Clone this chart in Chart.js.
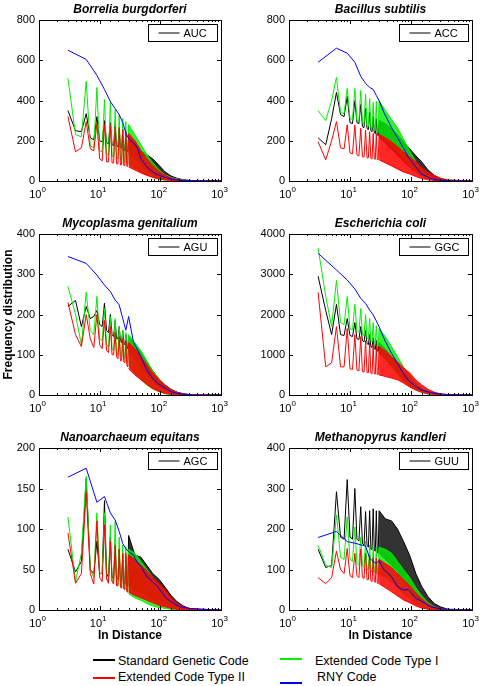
<!DOCTYPE html>
<html>
<head>
<meta charset="utf-8">
<script src="https://cdn.jsdelivr.net/npm/chart.js@4.4.0/dist/chart.umd.min.js"></script>
<style>
  body { margin: 0; background: #fff; width: 481px; height: 686px; position: relative; overflow: hidden;
         font-family: Arial, "Liberation Sans", sans-serif; }
  canvas { position: absolute; }
  .key-line { position: absolute; height: 2px; width: 22px; }
  .key-text { position: absolute; font-size: 12.5px; line-height: 14px; color: #000; white-space: nowrap; }
</style>
</head>
<body>
<canvas id="p0" width="240" height="215" style="left:0;top:0"></canvas>
<canvas id="p1" width="241" height="215" style="left:240px;top:0"></canvas>
<canvas id="p2" width="240" height="215" style="left:0;top:215px"></canvas>
<canvas id="p3" width="241" height="215" style="left:240px;top:215px"></canvas>
<canvas id="p4" width="240" height="216" style="left:0;top:430px"></canvas>
<canvas id="p5" width="241" height="216" style="left:240px;top:430px"></canvas>

<span class="key-line" style="left:93px;top:659px;background:#000"></span>
<span class="key-text" style="left:118px;top:654px">Standard Genetic Code</span>
<span class="key-line" style="left:93px;top:677px;background:#f00"></span>
<span class="key-text" style="left:118px;top:670px">Extended Code Type II</span>
<span class="key-line" style="left:280px;top:658px;background:#0e0"></span>
<span class="key-text" style="left:315px;top:654px">Extended Code Type I</span>
<span class="key-line" style="left:280px;top:682px;background:#00f"></span>
<span class="key-text" style="left:317px;top:670px">RNY Code</span>

<script>
// distances (x): short-range points, long-range envelope points, RNY samples
const zigDist = [3, 4, 5, 6, 7, 8, 9, 10, 11, 12, 13, 14, 15, 16, 17, 18, 19, 20, 21, 22, 23, 24, 25, 26, 27, 28, 29, 30];
const bandDist = [30, 38, 48, 60, 75, 95, 120, 150, 190, 240, 300, 400, 1000];
const rnyDist = [3, 6, 9, 12, 15, 18, 21, 24, 27, 30, 36, 42, 48, 60, 75, 90, 120, 150, 210, 300, 450, 1000];

const genomes = ['Borrelia burgdorferi', 'Bacillus subtilis', 'Mycoplasma genitalium',
  'Escherichia coli', 'Nanoarchaeum equitans', 'Methanopyrus kandleri'];
const codons = ['AUC', 'ACC', 'AGU', 'GGC', 'AGC', 'GUU'];
const yMax = [800, 800, 400, 4000, 200, 400];
const yStep = [200, 200, 100, 1000, 50, 100];
const xDecades = [1, 10, 100, 1000];
const seriesNames = ['Standard Genetic Code', 'Extended Code Type I', 'Extended Code Type II', 'RNY Code'];

// Standard Genetic Code (black)
const stdZig = [
  [350, 250, 245, 335, 215, 205, 320, 200, 195, 300, 190, 185, 290, 180, 175, 280, 175, 170, 265, 165, 160, 255, 155, 150, 245, 150, 145, 230],
  [215, 180, 310, 440, 330, 320, 420, 290, 285, 400, 290, 285, 380, 270, 265, 360, 260, 255, 340, 250, 245, 320, 240, 235, 310, 230, 225, 300],
  [220, 235, 170, 220, 190, 195, 210, 175, 170, 228, 160, 155, 200, 150, 145, 185, 140, 140, 170, 135, 130, 160, 128, 125, 150, 120, 115, 145],
  [2950, 2100, 1500, 2250, 1500, 1480, 1900, 1480, 1450, 1800, 1400, 1380, 1700, 1350, 1320, 1600, 1280, 1250, 1500, 1200, 1180, 1420, 1150, 1130, 1360, 1100, 1080, 1300],
  [75, 47, 60, 162, 50, 45, 85, 45, 45, 135, 45, 40, 90, 40, 40, 80, 38, 38, 75, 35, 35, 70, 33, 32, 65, 30, 30, 92],
  [150, 105, 110, 292, 180, 175, 322, 180, 175, 300, 175, 170, 255, 165, 160, 243, 160, 155, 245, 150, 150, 250, 148, 145, 245, 142, 140, 245]
];
const stdHi = [
  [230, 200, 150, 130, 110, 78, 45, 25, 13, 6, 3, 1, 0],
  [300, 285, 260, 230, 195, 160, 125, 95, 55, 28, 12, 4, 0],
  [145, 125, 105, 80, 60, 40, 25, 14, 7, 3, 1, 0, 0],
  [1300, 1150, 950, 750, 550, 380, 240, 140, 70, 35, 15, 5, 0],
  [92, 68, 65, 55, 45, 38, 28, 18, 10, 5, 2, 1, 0],
  [245, 225, 220, 200, 170, 135, 90, 58, 33, 16, 8, 2, 0]
];
const stdLo = [
  [140, 110, 80, 55, 35, 20, 12, 6, 3, 1, 0, 0, 0],
  [220, 190, 160, 130, 100, 70, 45, 25, 12, 5, 2, 0, 0],
  [110, 90, 70, 50, 35, 22, 12, 6, 2, 1, 0, 0, 0],
  [1050, 900, 720, 540, 380, 240, 140, 75, 35, 15, 5, 1, 0],
  [30, 25, 22, 18, 14, 10, 6, 3, 1, 0, 0, 0, 0],
  [140, 125, 110, 95, 75, 55, 35, 20, 10, 4, 1, 0, 0]
];

// Extended Code Type I (green)
const ext1Zig = [
  [510, 230, 220, 495, 175, 165, 465, 150, 145, 405, 135, 130, 395, 125, 120, 355, 115, 110, 330, 105, 100, 310, 98, 95, 295, 90, 88, 280],
  [350, 300, 400, 515, 340, 335, 460, 310, 305, 460, 300, 295, 450, 290, 285, 430, 275, 270, 410, 265, 260, 390, 255, 250, 395, 245, 240, 400],
  [270, 200, 125, 255, 160, 150, 245, 140, 135, 215, 125, 120, 195, 115, 110, 190, 105, 100, 170, 100, 95, 160, 92, 90, 155, 85, 80, 150],
  [3650, 2450, 1700, 2850, 1800, 1750, 2450, 1650, 1620, 2250, 1600, 1550, 2150, 1500, 1480, 2000, 1420, 1400, 1900, 1350, 1320, 1800, 1300, 1280, 1720, 1250, 1220, 1650],
  [115, 35, 70, 165, 50, 40, 120, 45, 45, 120, 40, 35, 105, 35, 35, 110, 30, 30, 90, 30, 28, 80, 27, 26, 78, 24, 22, 75],
  [160, 110, 105, 235, 130, 125, 230, 125, 120, 205, 115, 110, 180, 110, 105, 170, 100, 100, 160, 95, 95, 155, 93, 92, 155, 90, 90, 155]
];
const ext1Hi = [
  [280, 230, 180, 130, 90, 55, 30, 18, 10, 5, 2, 1, 0],
  [400, 350, 305, 265, 210, 150, 95, 55, 28, 12, 5, 2, 0],
  [150, 130, 110, 85, 60, 40, 22, 12, 5, 2, 1, 0, 0],
  [1650, 1450, 1200, 950, 700, 480, 300, 170, 85, 40, 15, 5, 0],
  [75, 70, 60, 50, 40, 30, 22, 12, 6, 3, 1, 0, 0],
  [155, 150, 140, 120, 100, 80, 55, 35, 18, 8, 3, 1, 0]
];
const ext1Lo = [
  [85, 65, 45, 30, 20, 10, 5, 2, 1, 0, 0, 0, 0],
  [230, 200, 170, 140, 110, 75, 45, 25, 12, 5, 2, 0, 0],
  [75, 55, 38, 25, 15, 8, 3, 1, 0, 0, 0, 0, 0],
  [1100, 900, 700, 520, 360, 220, 120, 60, 25, 10, 3, 1, 0],
  [20, 15, 12, 8, 5, 3, 2, 1, 0, 0, 0, 0, 0],
  [90, 80, 70, 55, 40, 28, 16, 8, 3, 1, 0, 0, 0]
];

// Extended Code Type II (red)
const ext2Zig = [
  [320, 145, 165, 295, 160, 150, 285, 110, 100, 280, 95, 95, 275, 90, 90, 270, 85, 85, 265, 80, 80, 255, 78, 76, 245, 74, 72, 235],
  [195, 105, 200, 295, 165, 160, 280, 140, 135, 278, 130, 125, 262, 120, 120, 253, 115, 115, 245, 112, 110, 237, 110, 108, 235, 106, 105, 230],
  [230, 150, 120, 200, 140, 118, 200, 125, 115, 185, 110, 105, 170, 100, 100, 155, 95, 90, 145, 85, 85, 140, 82, 80, 135, 75, 70, 130],
  [2550, 700, 800, 1700, 700, 700, 1650, 650, 640, 1500, 620, 600, 1450, 580, 570, 1350, 560, 550, 1300, 540, 530, 1250, 525, 520, 1225, 510, 505, 1200],
  [95, 33, 45, 145, 45, 32, 110, 40, 35, 105, 38, 33, 85, 35, 32, 80, 30, 30, 75, 28, 27, 70, 26, 25, 70, 23, 22, 68],
  [80, 65, 80, 145, 100, 90, 152, 85, 80, 140, 85, 80, 150, 80, 78, 140, 75, 75, 135, 72, 70, 130, 70, 68, 128, 66, 65, 125]
];
const ext2Hi = [
  [235, 200, 150, 110, 75, 48, 28, 15, 8, 4, 2, 1, 0],
  [230, 215, 195, 170, 145, 120, 95, 65, 42, 28, 15, 5, 0],
  [130, 115, 95, 75, 55, 38, 24, 13, 6, 3, 1, 1, 0],
  [1200, 1100, 950, 820, 680, 550, 373, 250, 140, 70, 30, 8, 0],
  [68, 62, 55, 48, 40, 33, 25, 15, 8, 4, 2, 1, 0],
  [125, 115, 105, 90, 75, 60, 42, 28, 15, 7, 3, 1, 0]
];
const ext2Lo = [
  [70, 55, 40, 28, 18, 10, 5, 2, 1, 0, 0, 0, 0],
  [105, 90, 75, 60, 45, 35, 22, 12, 6, 3, 1, 0, 0],
  [65, 50, 38, 26, 16, 9, 4, 2, 1, 0, 0, 0, 0],
  [500, 460, 420, 380, 300, 200, 124, 70, 35, 15, 5, 1, 0],
  [22, 18, 15, 12, 9, 6, 4, 2, 1, 0, 0, 0, 0],
  [65, 55, 45, 35, 25, 18, 10, 5, 2, 1, 0, 0, 0]
];

// RNY Code (blue)
const rny = [
  [650, 604, 525, 455, 395, 360, 330, 290, 240, 210, 190, 165, 110, 70, 45, 32, 18, 10, 4, 2, 1, 0],
  [590, 660, 635, 590, 520, 485, 465, 455, 425, 400, 340, 300, 265, 215, 165, 120, 70, 35, 12, 4, 1, 0],
  [344, 327, 298, 273, 257, 236, 224, 190, 161, 195, 132, 112, 95, 62, 41, 29, 17, 8, 3, 1, 0, 0],
  [3520, 3106, 2857, 2634, 2402, 2277, 2112, 1988, 1840, 1698, 1408, 1201, 1035, 787, 538, 373, 207, 124, 58, 25, 8, 0],
  [164, 175, 133, 140, 120, 111, 97, 82, 76, 72, 68, 58, 54, 41, 35, 29, 16, 10, 4, 2, 1, 0],
  [179, 194, 169, 165, 161, 158, 128, 120, 115, 122, 99, 91, 82, 58, 49, 51, 29, 21, 8, 3, 1, 0]
];

const FONT = 'Arial, "Liberation Sans", sans-serif';
Chart.defaults.font.family = FONT;
Chart.defaults.color = '#000';

const pts = (xs, ys) => xs.map((d, k) => ({ x: d, y: ys[k] }));
const isDecade = (v) => Math.abs(Math.log10(v) - Math.round(Math.log10(v))) < 1e-9;

function codeSets(zig, hi, lo, color, fillColor, order, label) {
  return [
    { label: label, data: pts(zigDist, zig), borderColor: color, order: order },
    { label: label + ' (upper)', data: pts(bandDist, hi), borderColor: color, order: order },
    { label: label + ' (lower)', data: pts(bandDist, lo), borderColor: color, backgroundColor: fillColor, fill: '-1', order: order }
  ];
}

// box, inward ticks, decade labels, title and codon legend, matlab style
const matlabAxes = {
  id: 'matlabAxes',
  afterDraw(chart, args, opts) {
    const { ctx, chartArea: a, scales: { x, y } } = chart;
    ctx.save();
    ctx.strokeStyle = '#000';
    ctx.lineWidth = 1;
    ctx.beginPath();
    x.ticks.forEach((t) => {
      const px = Math.round(x.getPixelForValue(t.value)) + 0.5;
      const len = isDecade(t.value) ? 4 : 2;
      ctx.moveTo(px, a.bottom); ctx.lineTo(px, a.bottom - len);
      ctx.moveTo(px, a.top); ctx.lineTo(px, a.top + len);
    });
    y.ticks.forEach((t) => {
      const py = Math.round(y.getPixelForValue(t.value)) + 0.5;
      ctx.moveTo(a.left, py); ctx.lineTo(a.left + 4, py);
      ctx.moveTo(a.right, py); ctx.lineTo(a.right - 4, py);
    });
    ctx.stroke();
    ctx.strokeRect(Math.round(a.left) + 0.5, Math.round(a.top) + 0.5, Math.round(a.width), Math.round(a.height));

    // 10^k labels
    ctx.fillStyle = '#000';
    ctx.textAlign = 'left';
    ctx.textBaseline = 'alphabetic';
    xDecades.forEach((v) => {
      const px = x.getPixelForValue(v);
      const ex = String(Math.round(Math.log10(v)));
      ctx.font = '11px ' + FONT;
      const w1 = ctx.measureText('10').width;
      ctx.font = '8px ' + FONT;
      const w2 = ctx.measureText(ex).width;
      const x0 = px - (w1 + w2) / 2 - 1.5;
      ctx.font = '11px ' + FONT;
      ctx.fillText('10', x0, a.bottom + 16.5);
      ctx.font = '8px ' + FONT;
      ctx.fillText(ex, x0 + w1, a.bottom + 11);
    });

    // panel title
    ctx.font = 'italic bold 12px ' + FONT;
    ctx.textAlign = 'center';
    ctx.fillText(opts.title, (a.left + a.right) / 2, a.top - 7.5);

    // codon legend box
    const bw = 69, bh = 17;
    const bx = Math.round(a.right - 4 - bw) + 0.5, by = Math.round(a.top + 4) + 0.5;
    ctx.fillStyle = '#fff';
    ctx.fillRect(bx, by, bw, bh);
    ctx.strokeRect(bx, by, bw, bh);
    ctx.beginPath();
    ctx.moveTo(bx + 10, by + bh / 2); ctx.lineTo(bx + 31, by + bh / 2);
    ctx.stroke();
    ctx.fillStyle = '#000';
    ctx.font = '11px ' + FONT;
    ctx.textAlign = 'left';
    ctx.textBaseline = 'middle';
    ctx.fillText(chart.data.datasets[0].label, bx + 35, by + bh / 2 + 0.5);
    ctx.restore();
  }
};

genomes.forEach((name, i) => {
  const col = i % 2, row = Math.floor(i / 2);
  const yWidth = col ? 49 : 39;
  const padRight = col ? 9 : 19;
  const padTop = [20, 19, 18][row];
  const xHeight = [34, 35, 36][row];

  const datasets = [
    ...codeSets(stdZig[i], stdHi[i], stdLo[i], '#000000', 'rgba(0,0,0,0.8)', 3, codons[i]),
    ...codeSets(ext1Zig[i], ext1Hi[i], ext1Lo[i], '#00ee00', 'rgba(0,238,0,0.8)', 2, seriesNames[1]),
    ...codeSets(ext2Zig[i], ext2Hi[i], ext2Lo[i], '#ff0000', 'rgba(255,0,0,0.85)', 1, seriesNames[2]),
    { label: seriesNames[3], data: pts(rnyDist, rny[i]), borderColor: '#0000ff', order: 0 }
  ];

  // eslint-disable-next-line no-new
  new Chart(document.getElementById('p' + i), {
    type: 'line',
    data: { datasets },
    plugins: [matlabAxes],
    options: {
      responsive: false,
      animation: false,
      layout: { padding: { top: padTop, right: padRight, left: 0, bottom: 0 } },
      elements: { point: { radius: 0 }, line: { borderWidth: 1, tension: 0 } },
      plugins: {
        legend: { display: false },
        tooltip: { enabled: false },
        matlabAxes: { title: name }
      },
      scales: {
        x: {
          type: 'logarithmic',
          min: 1,
          max: 1000,
          grid: { display: false },
          border: { display: false },
          ticks: { display: false },
          title: {
            display: row === 2,
            text: 'ln Distance',
            font: { size: 12, weight: 'bold' },
            padding: { top: 0, bottom: 3 }
          },
          afterFit: (s) => { s.height = xHeight; }
        },
        y: {
          min: 0,
          max: yMax[i],
          grid: { display: false, drawTicks: false },
          border: { display: false },
          ticks: { stepSize: yStep[i], padding: 4, font: { size: 11 }, callback: (v) => String(v) },
          title: {
            display: i === 2,
            text: 'Frequency distribution',
            font: { size: 12, weight: 'bold' },
            padding: { top: 1, bottom: 0 }
          },
          afterFit: (s) => { s.width = yWidth; }
        }
      }
    }
  });
});
</script>
</body>
</html>
